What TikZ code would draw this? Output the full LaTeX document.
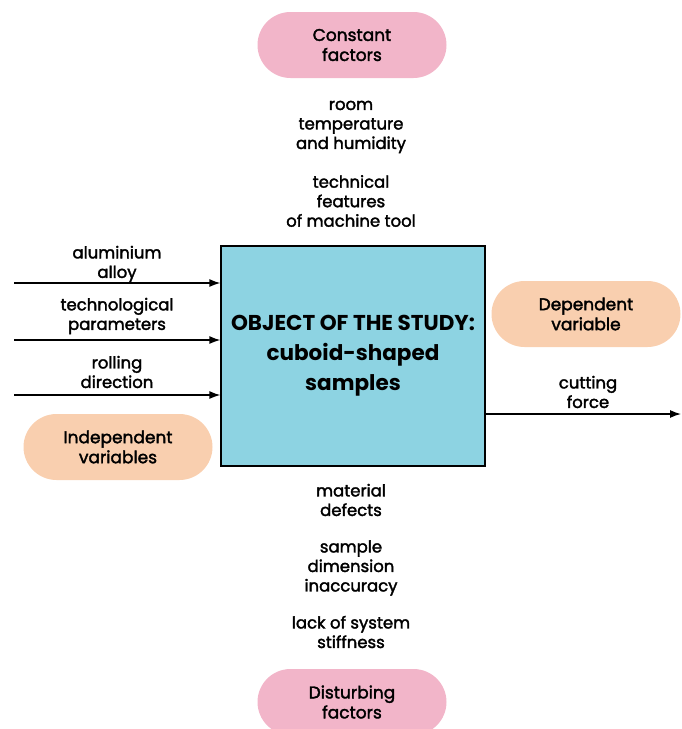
\documentclass[tikz,border=0pt]{standalone}
\usepackage{fontspec}
\setmainfont{Poppins}
\newfontfamily\medfont{Poppins}[FakeBold=2]
\usetikzlibrary{arrows.meta}
\definecolor{pinkfill}{HTML}{F2B5C9}
\definecolor{peachfill}{HTML}{F9CFAF}
\definecolor{boxfill}{HTML}{8DD3E2}
\begin{document}
\begin{tikzpicture}[x=1pt,y=-1pt,
  pill/.style={rounded corners=33pt, minimum width=189pt, minimum height=66pt, inner sep=0pt, align=center, font=\medfont\fontsize{17}{20}\selectfont},
  lbl/.style={align=center, inner sep=0pt, font=\medfont\fontsize{16.5}{19.5}\selectfont},
  arr/.style={line width=1.3pt, -{Latex[length=11pt,width=8pt]}}]
\clip (0,0) rectangle (681,729);
\useasboundingbox (0,0) rectangle (681,729);
\node[pill, fill=pinkfill] (const) at (352,45) {Constant\\factors};
\node[pill, fill=pinkfill] (dist) at (352,702) {Disturbing\\factors};
\node[pill, fill=peachfill] (indep) at (118,447) {Independent\\variables};
\node[pill, fill=peachfill] (dep) at (586,314) {Dependent\\variable};
\node[draw=black, line width=1.3pt, fill=boxfill, minimum width=264pt, minimum height=220pt, inner sep=0pt, align=center, font=\bfseries\fontsize{21.5}{30}\selectfont] (obj) at (353,356) {OBJECT OF THE STUDY:\\cuboid-shaped\\samples};
\node[lbl] (t1) at (351,127) {room\\temperature\\and humidity};
\node[lbl] (t2) at (351,201) {technical\\features\\of machine tool};
\node[lbl] (b1) at (351,500) {material\\defects};
\node[lbl] (b2) at (351,568) {sample\\dimension\\inaccuracy};
\node[lbl] (b3) at (351,632) {lack of system\\stiffness};
\node[lbl] (l1) at (117,264) {aluminium\\alloy};
\node[lbl] (l2) at (117,316) {technological\\parameters};
\node[lbl] (l3) at (117,372) {rolling\\direction};
\node[lbl] (r1) at (588,392) {cutting\\force};
\coordinate (s1) at (14,283);
\coordinate (s2) at (14,340);
\coordinate (s3) at (14,395);
\coordinate (e4) at (681,414);
\draw[arr] (s1) -- (s1 -| obj.west);
\draw[arr] (s2) -- (s2 -| obj.west);
\draw[arr] (s3) -- (s3 -| obj.west);
\draw[arr] (e4 -| obj.east) -- (e4);
\end{tikzpicture}
\end{document}
